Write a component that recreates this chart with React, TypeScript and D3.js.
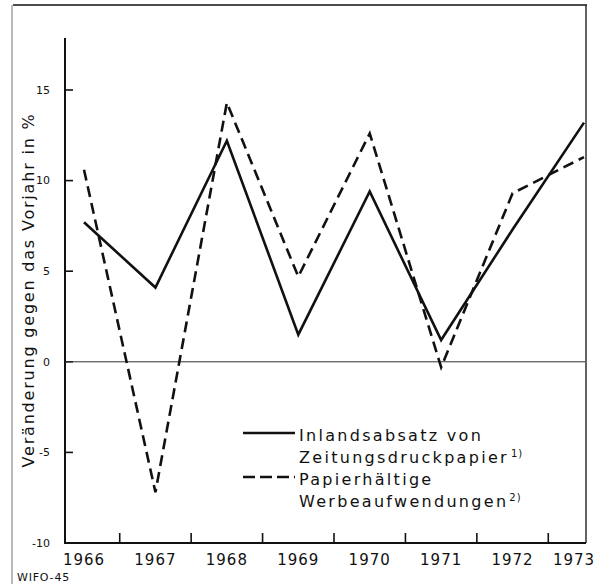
import React from "react";
import * as d3 from "d3";

const years = [1966, 1967, 1968, 1969, 1970, 1971, 1972, 1973];
const inlandsabsatz = [7.7, 4.1, 12.2, 1.5, 9.4, 1.2, 7.3, 13.2];
const werbeaufwendungen = [10.6, -7.2, 14.3, 4.7, 12.6, -0.3, 9.3, 11.3];
const yTicks = [15, 10, 5, 0, -5, -10];
const yTitle = "Veränderung gegen das Vorjahr in %";
const legendSolid = ["Inlandsabsatz von", "Zeitungsdruckpapier"];
const legendDashed = ["Papierhältige", "Werbeaufwendungen"];
const footnote = "WIFO-45";

const W = 601;
const H = 584;
const axisX = 65;
const rightX = 585;
const font = "'DejaVu Sans', sans-serif";

export default function App() {
  const x = d3.scaleLinear().domain([1966, 1973]).range([84, 584]);
  const y = d3.scaleLinear().domain([-10, 15]).range([543, 90]);
  const line = d3
    .line<number>()
    .x((_, i) => x(years[i]))
    .y((d) => y(d));
  const midTicks = years.slice(0, -1).map((yr) => yr + 0.5);

  return (
    <svg
      width={W}
      height={H}
      style={{ position: "absolute", left: 0, top: 0, background: "#fff" }}
      fontFamily={font}
    >
      <rect width={W} height={H} fill="#fff" />
      {/* outer frame */}
      <line x1={13} y1={5} x2={587} y2={5} stroke="#111" strokeWidth={1.6} />
      <line x1={12} y1={5} x2={12} y2={584} stroke="#777" strokeWidth={1} />
      <line x1={rightX + 1} y1={5} x2={rightX + 1} y2={y(-10)} stroke="#222" strokeWidth={1.4} />

      {/* y axis */}
      <line x1={axisX} y1={38} x2={axisX} y2={y(-10) + 1} stroke="#111" strokeWidth={2} />
      {yTicks.map((t) => (
        <g key={t}>
          <line x1={axisX} y1={y(t)} x2={axisX + 8} y2={y(t)} stroke="#111" strokeWidth={1.6} />
          <text
            x={50}
            y={y(t)}
            dy="0.35em"
            textAnchor="end"
            fontSize={11}
            fill="#111"
          >
            {t < 0 ? "-" + Math.abs(t) : t}
          </text>
        </g>
      ))}
      {/* x axis */}
      <line x1={axisX} y1={y(-10)} x2={rightX + 1} y2={y(-10)} stroke="#111" strokeWidth={2} />
      {midTicks.map((t) => (
        <line key={t} x1={x(t)} y1={y(-10)} x2={x(t)} y2={y(-10) - 10} stroke="#111" strokeWidth={1.6} />
      ))}
      {years.map((yr) => (
        <text
          key={yr}
          x={Math.min(x(yr), W - 27)}
          y={565}
          textAnchor="middle"
          fontSize={15}
          letterSpacing={1}
          fill="#111"
        >
          {yr}
        </text>
      ))}
      {/* zero line */}
      <line x1={axisX} y1={y(0)} x2={rightX} y2={y(0)} stroke="#333" strokeWidth={1} />

      {/* y title */}
      <text
        transform={`translate(34,290) rotate(-90)`}
        textAnchor="middle"
        fontSize={16}
        letterSpacing={1.8}
        fill="#111"
      >
        {yTitle}
      </text>

      {/* series */}
      <path d={line(inlandsabsatz) || ""} fill="none" stroke="#111" strokeWidth={2.6} strokeLinejoin="miter" />
      <path
        d={line(werbeaufwendungen) || ""}
        fill="none"
        stroke="#111"
        strokeWidth={2.6}
        strokeDasharray="11,6"
      />

      {/* legend */}
      <line x1={243} y1={433} x2={295} y2={433} stroke="#111" strokeWidth={2.4} />
      <line x1={243} y1={477} x2={295} y2={477} stroke="#111" strokeWidth={2.4} strokeDasharray="12,5" />
      <g fontSize={16} letterSpacing={2.3} fill="#111">
        <text x={299} y={441}>{legendSolid[0]}</text>
        <text x={299} y={463}>
          {legendSolid[1]}
          <tspan fontSize={10} dy={-6} dx={2} letterSpacing={1}>1)</tspan>
        </text>
        <text x={299} y={485}>{legendDashed[0]}</text>
        <text x={299} y={507}>
          {legendDashed[1]}
          <tspan fontSize={10} dy={-6} dx={1} letterSpacing={1}>2)</tspan>
        </text>
      </g>
      <text x={17} y={581} fontSize={11} letterSpacing={0.8} fill="#111">
        {footnote}
      </text>
    </svg>
  );
}
